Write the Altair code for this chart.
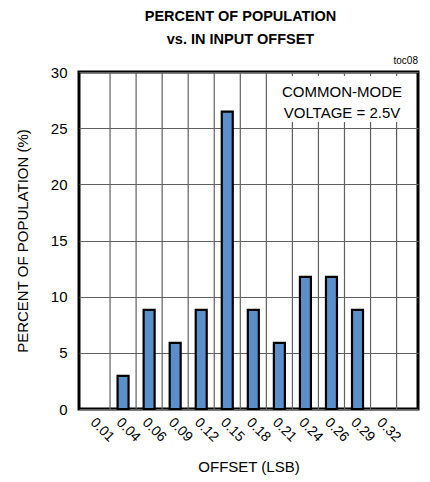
import altair as alt
import pandas as pd

offsets = ["0.01", "0.04", "0.06", "0.09", "0.12", "0.15", "0.18", "0.21", "0.24", "0.26", "0.29", "0.32"]
percent = [0, 2.94, 8.82, 5.88, 8.82, 26.47, 8.82, 5.88, 11.76, 11.76, 8.82, 0]
y_ticks = [0, 5, 10, 15, 20, 25, 30]

FONT = "Liberation Sans, Arial"

df = pd.DataFrame({
    "label": offsets,
    "pos": [i + 0.5 for i in range(len(offsets))],
    "pct": percent,
})

xscale = alt.Scale(domain=[0, 12.63], nice=False, zero=False)
yscale = alt.Scale(domain=[0, 30], nice=False)

label_expr = "{" + ",".join(f"'{p}':'{l}'" for p, l in zip(df["pos"], df["label"])) + "}[datum.value]"

x_axis = alt.Axis(values=list(df["pos"]), labelExpr=label_expr,
                  labelAngle=45, grid=False, ticks=False, domain=False,
                  labelFontSize=14, labelFont=FONT, labelColor="black",
                  labelPadding=6, labelOverlap=False, labelBound=False,
                  titleFont=FONT, titleFontSize=15,
                  titleFontWeight="normal", titleColor="black",
                  titlePadding=15, labelFlush=False)

bars = alt.Chart(df).transform_filter("datum.pct > 0").mark_bar(
    size=11, color="#5b8fc9", stroke="black", strokeWidth=2.2
).encode(
    x=alt.X("pos:Q", scale=xscale, title="OFFSET (LSB)", axis=x_axis),
    y=alt.Y("pct:Q", scale=yscale, title="PERCENT OF POPULATION (%)",
            axis=alt.Axis(values=y_ticks, grid=True, gridColor="#606060",
                          gridWidth=1.2, ticks=False, domain=False,
                          labelFontSize=15, labelFont=FONT, labelColor="black",
                          labelPadding=12, titleFont=FONT, titleFontSize=15,
                          titleFontWeight="normal", titleColor="black",
                          titlePadding=20)),
)

grid_df = pd.DataFrame({"b": list(range(1, len(offsets) + 1))})
vgrid = alt.Chart(grid_df).mark_rule(color="#606060", strokeWidth=1.2).encode(
    x=alt.X("b:Q", scale=xscale, title="OFFSET (LSB)", axis=x_axis),
)

note_box = alt.Chart(df).mark_rect(color="white").encode(
    x=alt.value(191), x2=alt.value(332), y=alt.value(4), y2=alt.value(50)
).transform_filter("datum.label == '0.01'")

note_text = alt.Chart(df).mark_text(
    font=FONT, fontSize=15, color="black", align="center", baseline="middle",
    lineHeight=21
).encode(
    x=alt.value(263), y=alt.value(20),
    text=alt.value(["COMMON-MODE", "VOLTAGE = 2.5V"])
).transform_filter("datum.label == '0.01'")

toc = alt.Chart(df).mark_text(
    font=FONT, fontSize=10, color="black", align="right", baseline="bottom"
).encode(
    x=alt.value(339), y=alt.value(-6), text=alt.value("toc08")
).transform_filter("datum.label == '0.01'")

chart = alt.layer(vgrid, bars, note_box, note_text, toc).properties(
    width=339, height=337,
    padding={"left": 71, "top": 64, "right": 4, "bottom": 73},
    autosize=alt.AutoSizeParams(type="none"),
    title=alt.TitleParams(
        text=["PERCENT OF POPULATION", "vs.  IN INPUT OFFSET"],
        font=FONT, fontSize=14.5, fontWeight="bold", color="black",
        anchor="middle", dx=-8, offset=9, lineHeight=23,
    ),
).configure_view(
    stroke="black", strokeWidth=3
)

chart.save("out.html", embed_options={"renderer": "svg", "actions": False})
